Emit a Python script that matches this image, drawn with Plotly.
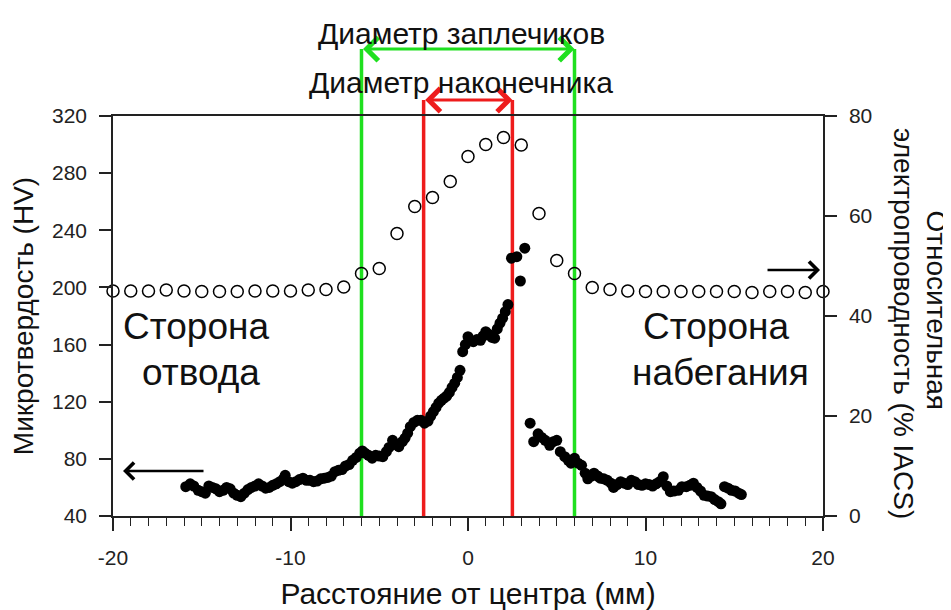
import plotly.graph_objects as go

# ---- Data ----
# Relative electrical conductivity (% IACS), open circles, right axis
cond_x = list(range(-20, 21))
cond_y = [45.0, 45.0, 45.0, 45.2, 45.0, 44.9, 44.9, 44.9, 45.0, 45.0, 45.0, 45.2, 45.3, 45.8,
          48.5, 49.5, 56.5, 61.9, 63.7, 66.9, 71.9, 74.3, 75.7, 74.2, 60.5, 51.1, 48.5,
          45.7, 45.3, 45.0, 44.9, 44.9, 44.9, 44.9, 44.9, 44.9, 44.7, 44.9, 44.9, 44.7, 44.9]

# Microhardness (HV), filled circles, left axis
hv_x = [-15.9, -15.65, -15.45, -15.2, -15.0, -14.8, -14.6, -14.4, -14.2, -14.0, -13.8, -13.6,
        -13.4, -13.2, -13.0, -12.8, -12.6, -12.4, -12.2, -12.0, -11.8, -11.6, -11.4, -11.2,
        -11.0, -10.8, -10.6, -10.4, -10.3, -10.1, -9.9, -9.7, -9.5, -9.3, -9.1, -8.9, -8.7,
        -8.5, -8.3, -8.1, -7.9, -7.7, -7.5, -7.3, -7.1, -6.9, -6.7, -6.5, -6.3, -6.1, -5.95,
        -5.8, -5.6, -5.4, -5.2, -5.0, -4.8, -4.6, -4.45, -4.25, -4.05, -3.9, -3.7, -3.55,
        -3.4, -3.25, -3.05, -2.85, -2.65, -2.45, -2.25, -2.1, -1.95, -1.8, -1.65, -1.5,
        -1.35, -1.2, -1.05, -0.9, -0.75, -0.6, -0.45, -0.3, -0.15, 0.0, 0.15, 0.3, 0.5, 0.7,
        0.85, 1.0, 1.2, 1.35, 1.5, 1.65, 1.8, 1.95, 2.1, 2.25, 2.45, 2.75, 2.95, 3.2, 3.5,
        3.7, 3.95, 4.15, 4.35, 4.6, 4.8, 5.0, 5.2, 5.45, 5.65, 5.8, 6.0, 6.2, 6.4, 6.6, 6.75,
        6.95, 7.1, 7.3, 7.45, 7.65, 7.85, 8.05, 8.2, 8.4, 8.6, 8.8, 9.0, 9.2, 9.4, 9.6, 9.8,
        10.0, 10.2, 10.4, 10.6, 10.8, 11.0, 11.2, 11.4, 11.6, 11.85, 12.05, 12.3, 12.5, 12.7,
        12.9, 13.1, 13.3, 13.5, 13.7, 13.9, 14.1, 14.25, 14.45, 14.65, 14.85, 15.05, 15.25,
        15.4]
hv_y = [60.5, 62.5, 61.0, 58.0, 57.0, 56.0, 61.0, 60.0, 59.0, 57.0, 58.0, 60.0,
        59.0, 56.0, 54.5, 53.5, 56.0, 58.5, 60.0, 61.0, 62.5, 61.0, 59.5, 60.0,
        61.5, 62.5, 64.0, 66.0, 68.5, 64.0, 63.0, 64.0, 65.5, 66.5, 65.0, 65.0, 64.0,
        64.5, 66.0, 66.5, 67.0, 68.0, 71.0, 72.0, 72.5, 75.0, 76.0, 79.0, 81.0, 84.0, 85.5,
        84.0, 82.5, 80.5, 82.5, 82.0, 81.5, 85.0, 88.0, 93.0, 90.0, 88.5, 92.0, 94.5,
        98.0, 102.5, 105.5, 107.0, 107.0, 105.0, 106.5, 110.0, 113.0, 116.0, 119.0, 121.0,
        122.5, 124.0, 126.5, 130.0, 133.0, 137.0, 142.0, 155.0, 160.0, 165.5, 163.0, 162.0, 163.5, 163.0,
        166.0, 169.0, 167.0, 165.0, 164.5, 171.0, 175.0, 178.5, 183.0, 188.0, 220.5, 221.5, 204.5, 227.5, 105.0,
        92.0, 97.5, 95.0, 93.0, 89.5, 92.0, 93.0, 85.0, 81.5, 79.0, 77.0, 80.5, 77.0, 75.5, 70.0, 66.0,
        68.0, 70.0, 68.0, 66.5, 66.0, 65.0, 63.0, 60.0, 62.0, 64.0, 63.0, 62.0, 65.0, 64.0, 62.0, 61.5,
        62.5, 62.0, 61.0, 62.5, 64.0, 67.5, 61.0, 57.0, 57.5, 58.0, 60.5, 60.5, 61.5, 63.0,
        60.0, 57.5, 54.5, 54.0, 53.5, 51.5, 50.0, 48.5, 60.5, 59.5, 58.0, 57.5, 56.0,
        55.0]

shoulder_diameter = 12.0   # mm
pin_diameter = 5.0         # mm

x_ticks = [-20, -10, 0, 10, 20]
x_tick_labels = ["-20", "-10", "0", "10", "20"]
hv_ticks = [40, 80, 120, 160, 200, 240, 280, 320]
cond_ticks = [0, 20, 40, 60, 80]

FONT = "Liberation Sans, Arial, sans-serif"
GREEN = "#1fe01f"
RED = "#ee1c1c"
TXT = "#111"

fig = go.Figure()
fig.add_trace(go.Scatter(
    x=hv_x, y=hv_y, mode="markers", yaxis="y",
    marker=dict(symbol="circle", size=11, color="black"),
    cliponaxis=False, showlegend=False))
fig.add_trace(go.Scatter(
    x=cond_x, y=cond_y, mode="markers", yaxis="y2",
    marker=dict(symbol="circle-open", size=12, color="black", line=dict(width=1.5, color="black")),
    cliponaxis=False, showlegend=False))

# Vertical lines for shoulder and pin diameters
GREEN_TOP = 1.1675
RED_TOP = 1.04
shapes = []
for xv in (-shoulder_diameter / 2, shoulder_diameter / 2):
    shapes.append(dict(type="line", xref="x", yref="paper", x0=xv, x1=xv, y0=0, y1=GREEN_TOP,
                       line=dict(color=GREEN, width=3.5), layer="below"))
for xv in (-pin_diameter / 2, pin_diameter / 2):
    shapes.append(dict(type="line", xref="x", yref="paper", x0=xv, x1=xv, y0=0, y1=RED_TOP,
                       line=dict(color=RED, width=3.5), layer="below"))


def label(x, y, text, size, **kw):
    d = dict(xref="paper", yref="paper", x=x, y=y, text=text, showarrow=False,
             xanchor="center", yanchor="middle",
             font=dict(family=FONT, size=size, color=TXT))
    d.update(kw)
    return d


annotations = [
    # double arrows
    dict(xref="x", yref="paper", x=shoulder_diameter / 2, y=GREEN_TOP,
         axref="x", ayref="pixel", ax=-shoulder_diameter / 2, ay=0,
         showarrow=True, arrowhead=4, startarrowhead=4, arrowside="end+start",
         arrowsize=1.5, startarrowsize=1.5, arrowwidth=3, arrowcolor=GREEN, text=""),
    dict(xref="x", yref="paper", x=pin_diameter / 2, y=RED_TOP,
         axref="x", ayref="pixel", ax=-pin_diameter / 2, ay=0,
         showarrow=True, arrowhead=4, startarrowhead=4, arrowside="end+start",
         arrowsize=1.5, startarrowsize=1.5, arrowwidth=3, arrowcolor=RED, text=""),
    label(0.4915, 1.207, "Диаметр заплечиков", 30),
    label(0.4901, 1.085, "Диаметр наконечника", 30),
    # side labels
    label(0.117, 0.475, "Сторона", 37),
    label(0.124, 0.36, "отвода", 37),
    label(0.8493, 0.475, "Сторона", 37),
    label(0.8563, 0.36, "набегания", 37),
    # direction arrows
    dict(xref="paper", yref="paper", x=0.0141, y=0.1125, ax=82, ay=0,
         axref="pixel", ayref="pixel", showarrow=True, arrowhead=4, arrowsize=1.3,
         arrowwidth=2.5, arrowcolor="black", text=""),
    dict(xref="paper", yref="paper", x=0.9958, y=0.615, ax=-54, ay=0,
         axref="pixel", ayref="pixel", showarrow=True, arrowhead=4, arrowsize=1.3,
         arrowwidth=2.5, arrowcolor="black", text=""),
    # right axis title (two lines, reading top to bottom)
    label(1.160, 0.515, "Относительная", 28, textangle=90),
    label(1.114, 0.48, "электропроводность (% IACS)", 28, textangle=90),
]

axis_common = dict(showline=True, linecolor="#222", linewidth=1.5, ticks="outside",
                   tickcolor="#222", tickwidth=1.5, showgrid=False, zeroline=False,
                   automargin=False,
                   tickfont=dict(family=FONT, size=21, color="#222"))

# The page body has an 8px margin; size the figure so the plot area lands where it should.
fig.update_layout(
    width=943, height=602,
    margin=dict(l=105, r=128, t=108, b=94),
    paper_bgcolor="white", plot_bgcolor="white",
    font=dict(family=FONT, color=TXT),
    shapes=shapes, annotations=annotations,
    xaxis=dict(range=[-20, 20], tickvals=x_ticks, ticktext=x_tick_labels, ticklen=13,
               ticklabelstandoff=9, mirror=True,
               minor=dict(dtick=1, ticks="outside", ticklen=8, tickcolor="#222", tickwidth=1.3),
               title=dict(text="Расстояние от центра (мм)", standoff=15,
                          font=dict(family=FONT, size=30, color=TXT)),
               **axis_common),
    yaxis=dict(range=[40, 320], tickvals=hv_ticks, ticklen=12, ticklabelstandoff=8,
               title=dict(text="Микротвердость (HV)", standoff=10,
                          font=dict(family=FONT, size=28, color=TXT)),
               **axis_common),
    yaxis2=dict(range=[0, 80], tickvals=cond_ticks, ticklen=12, ticklabelstandoff=8,
                overlaying="y", side="right", **axis_common),
)

fig.write_html("out.html")
